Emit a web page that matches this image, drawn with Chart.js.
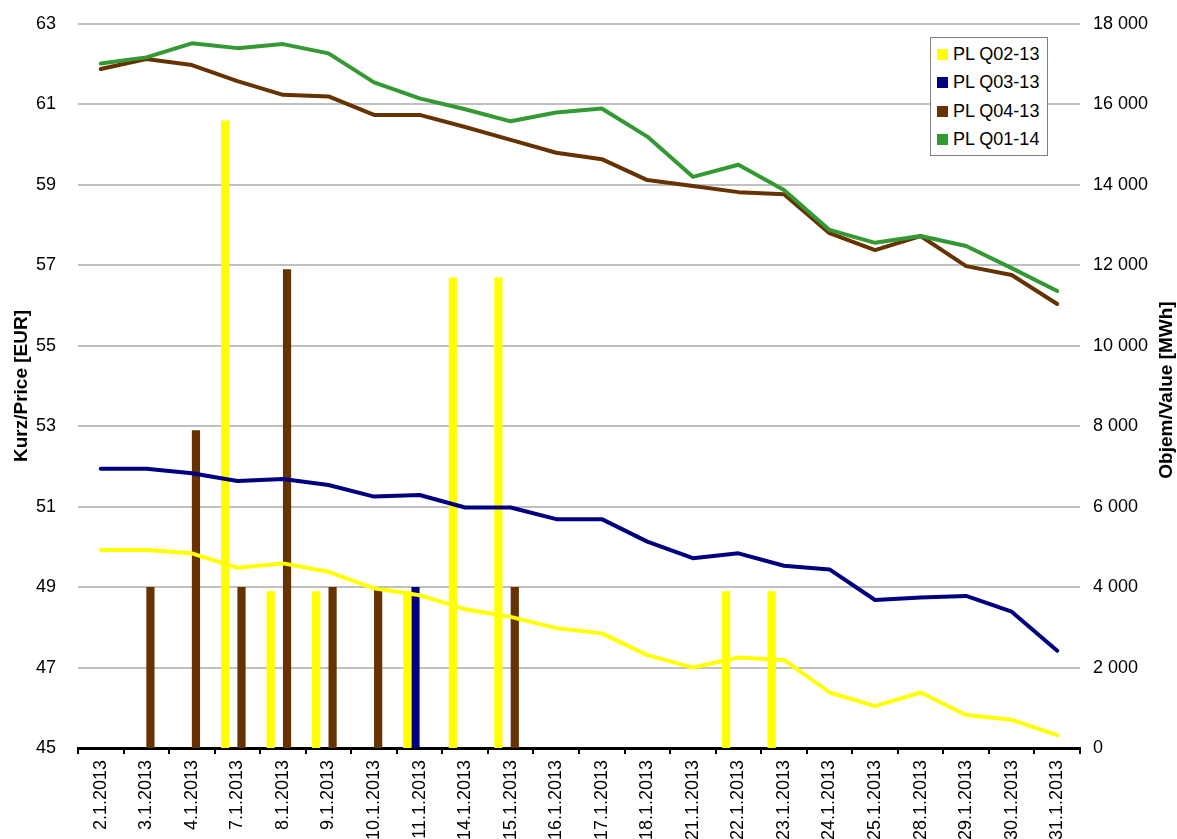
<!DOCTYPE html>
<html>
<head>
<meta charset="utf-8">
<script src="https://cdn.jsdelivr.net/npm/chart.js@4.4.1/dist/chart.umd.min.js"></script>
<style>
html,body{margin:0;padding:0;background:#fff;overflow:hidden;}
#wrap{position:relative;width:1177px;height:839px;}
#c{display:block;}
#legend{position:absolute;left:930px;top:37px;width:116px;height:115px;border:1px solid #808080;background:#fff;
  font:18px 'Liberation Sans',Arial,sans-serif;color:#000;padding-top:2px;}
.item{height:28.5px;display:flex;align-items:center;padding-left:6px;white-space:nowrap;}
.sw{width:11px;height:11px;margin-right:5px;flex:none;}
</style>
</head>
<body>
<div id="wrap">
  <canvas id="c" width="1177" height="839"></canvas>
  <div id="legend"></div>
</div>
<script>
const categories = ['2.1.2013','3.1.2013','4.1.2013','7.1.2013','8.1.2013','9.1.2013','10.1.2013','11.1.2013',
  '14.1.2013','15.1.2013','16.1.2013','17.1.2013','18.1.2013','21.1.2013','22.1.2013','23.1.2013',
  '24.1.2013','25.1.2013','28.1.2013','29.1.2013','30.1.2013','31.1.2013'];

const seriesNames = ['PL Q02-13','PL Q03-13','PL Q04-13','PL Q01-14'];
const seriesColors = ['#FFFF00','#000080','#663300','#339933'];

// Prices (EUR) - left axis
const priceQ02 = [49.92,49.92,49.84,49.48,49.59,49.38,48.97,48.80,48.45,48.26,47.98,47.85,47.31,47.00,47.25,47.19,46.38,46.04,46.38,45.82,45.70,45.32];
const priceQ03 = [51.94,51.94,51.83,51.64,51.69,51.54,51.25,51.29,50.98,50.98,50.69,50.69,50.13,49.72,49.84,49.53,49.44,48.68,48.74,48.78,48.39,47.42];
const priceQ04 = [61.88,62.13,61.98,61.58,61.24,61.20,60.74,60.74,60.44,60.12,59.80,59.64,59.12,58.97,58.82,58.77,57.80,57.38,57.73,56.98,56.76,56.04];
const priceQ01 = [62.02,62.17,62.52,62.40,62.50,62.27,61.55,61.15,60.88,60.58,60.80,60.90,60.20,59.20,59.50,58.87,57.88,57.56,57.73,57.48,56.93,56.36];

// Volumes (MWh) - right axis
const volQ02 = [null,null,null,15600,3900,3900,null,3900,11700,11700,null,null,null,null,3900,3900,null,null,null,null,null,null];
const volQ03 = [null,null,null,null,null,null,null,4000,null,null,null,null,null,null,null,null,null,null,null,null,null,null];
const volQ04 = [null,4000,7900,4000,11900,4000,4000,null,null,4000,null,null,null,null,null,null,null,null,null,null,null,null];
const volQ01 = [null,null,null,null,null,null,null,null,null,null,null,null,null,null,null,null,null,null,null,null,null,null];

// Axis ranges / ticks
const priceMin = 45, priceMax = 63, priceStep = 2;
const volMin = 0, volMax = 18000, volStep = 2000;
const leftTitle = 'Kurz/Price [EUR]';
const rightTitle = 'Objem/Value [MWh]';

const FONT = "'Liberation Sans', Arial, sans-serif";
const prices = [priceQ02, priceQ03, priceQ04, priceQ01];
const vols = [volQ02, volQ03, volQ04, volQ01];

const datasets = [];
for (let i = 0; i < 4; i++) {
  datasets.push({
    type: 'line', label: seriesNames[i], data: prices[i], yAxisID: 'y',
    borderColor: seriesColors[i], backgroundColor: seriesColors[i],
    borderWidth: 4, pointRadius: 0, tension: 0, fill: false,
    borderCapStyle: 'round', borderJoinStyle: 'round',
    order: 3 - i
  });
}
for (let i = 0; i < 4; i++) {
  datasets.push({
    type: 'bar', label: seriesNames[i], data: vols[i], yAxisID: 'y2',
    backgroundColor: seriesColors[i], borderWidth: 0,
    categoryPercentage: 0.72, barPercentage: 1.0,
    order: 10 + i
  });
}

const rightTitlePlugin = {
  id: 'rightTitle',
  afterDraw(chart) {
    const ctx = chart.ctx, a = chart.chartArea;
    ctx.save();
    ctx.font = 'bold 19px ' + FONT;
    ctx.fillStyle = '#000';
    ctx.textAlign = 'center';
    ctx.textBaseline = 'alphabetic';
    ctx.translate(1172, (a.top + a.bottom) / 2 + 4);
    ctx.rotate(-Math.PI / 2);
    ctx.fillText(rightTitle, 0, 0);
    ctx.restore();
  }
};

new Chart(document.getElementById('c'), {
  type: 'bar',
  data: { labels: categories, datasets },
  plugins: [rightTitlePlugin],
  options: {
    responsive: false, animation: false, devicePixelRatio: 1,
    layout: { padding: { top: 24, left: 0, right: 0, bottom: 0 } },
    plugins: { legend: { display: false }, tooltip: { enabled: false } },
    scales: {
      x: {
        type: 'category', offset: true,
        grid: { display: true, offset: true, drawOnChartArea: false, drawTicks: true, tickLength: 6, color: '#000', lineWidth: 2 },
        border: { display: true, color: '#000', width: 3 },
        ticks: { autoSkip: false, minRotation: 90, maxRotation: 90, padding: 6, color: '#000', font: { size: 18, family: FONT } },
        afterFit(s) { s.height = 91; s.paddingLeft = 0; s.paddingRight = 0; }
      },
      y: {
        position: 'left', min: priceMin, max: priceMax,
        ticks: { stepSize: priceStep, padding: 22, color: '#000', font: { size: 18, family: FONT } },
        grid: { color: '#c0c0c0', lineWidth: 2, drawTicks: false },
        border: { display: false },
        title: { display: true, text: leftTitle, color: '#000', font: { size: 19, weight: 'bold', family: FONT }, padding: { top: 10, bottom: 0 } },
        afterFit(s) { s.width = 78; s.paddingTop = 0; s.paddingBottom = 0; }
      },
      y2: {
        position: 'right', min: volMin, max: volMax,
        ticks: { stepSize: volStep, padding: 13, color: '#000', font: { size: 18, family: FONT },
          callback: v => String(v).replace(/\B(?=(\d{3})+(?!\d))/g, ' ') },
        grid: { display: false, drawOnChartArea: false, drawTicks: false },
        border: { display: false },
        afterFit(s) { s.width = 97; s.paddingTop = 0; s.paddingBottom = 0; }
      }
    }
  }
});

const lg = document.getElementById('legend');
seriesNames.forEach((n, i) => {
  const d = document.createElement('div'); d.className = 'item';
  const s = document.createElement('span'); s.className = 'sw'; s.style.background = seriesColors[i];
  const t = document.createElement('span'); t.textContent = n;
  d.appendChild(s); d.appendChild(t); lg.appendChild(d);
});
</script>
</body>
</html>
